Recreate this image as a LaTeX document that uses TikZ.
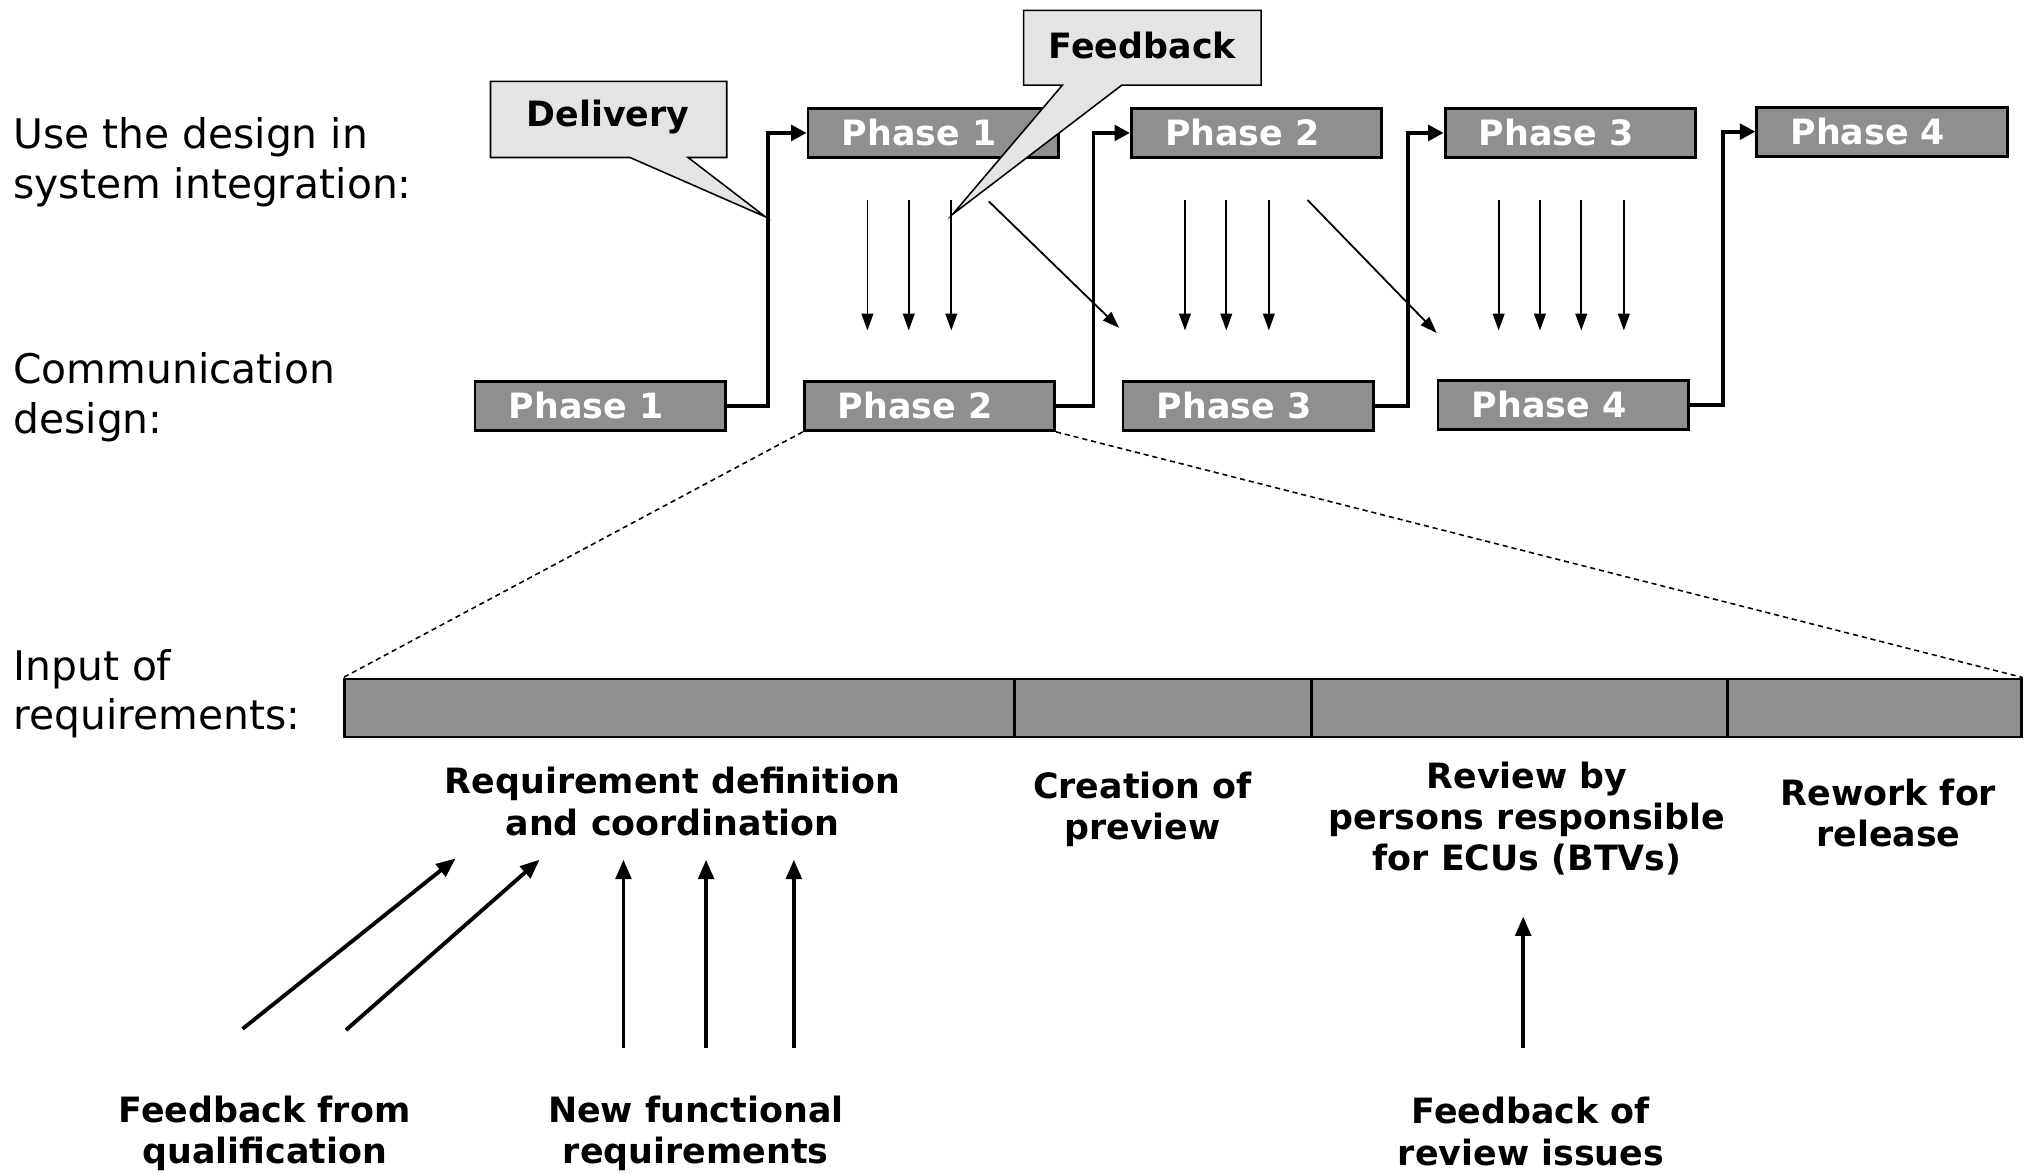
\documentclass[tikz,border=0pt]{standalone}
\usepackage{fontspec}
\setmainfont{DejaVu Sans}
\usetikzlibrary{arrows.meta}
\definecolor{phasegray}{HTML}{8F8F8F}
\definecolor{callgray}{HTML}{E4E4E4}
\begin{document}
\begin{tikzpicture}[x=0.5pt,y=-0.5pt,
 phasebox/.style={draw,line width=1.1pt,fill=phasegray,minimum width=97pt,minimum height=19pt,inner sep=0pt,text=white,font=\fontsize{13.5}{16}\selectfont\bfseries},
 segbox/.style={draw,line width=1.1pt,fill=phasegray,minimum height=22.5pt,inner sep=0pt},
 sidelabel/.style={anchor=west,align=left,inner sep=0pt,font=\fontsize{15.8}{19.3}\selectfont},
 steplabel/.style={align=center,inner sep=0pt,font=\fontsize{13.5}{16}\selectfont\bfseries},
 calloutshape/.style={draw,line width=0.6pt,fill=callgray},
 callouttext/.style={inner sep=0pt,font=\fontsize{13.5}{16}\selectfont\bfseries},
 elbow/.style={line width=1.5pt,-{Triangle[length=6pt,width=6pt]}},
 thinarrow/.style={line width=0.7pt,-{Triangle[length=6.5pt,width=4.5pt]}},
 thickarrow/.style={line width=1.5pt,-{Triangle[length=7.5pt,width=6pt]}},
 zoomline/.style={line width=0.6pt,dash pattern=on 2pt off 1.5pt}]

\useasboundingbox (0,0) rectangle (1568,909);

% side labels
\node[sidelabel] (lab1) at (10,126) {Use the design in\\system integration:};
\node[sidelabel] (lab2) at (10,308) {Communication\\design:};
\node[sidelabel] (lab3) at (10,537.5) {Input of\\requirements:};

% top phases
\node[phasebox] (t1) at (723,103) {Phase 1\hspace*{11pt}};
\node[phasebox] (t2) at (973.5,103) {Phase 2\hspace*{11pt}};
\node[phasebox] (t3) at (1216.5,103) {Phase 3\hspace*{11pt}};
\node[phasebox] (t4) at (1458,102) {Phase 4\hspace*{11pt}};

% bottom phases
\node[phasebox] (b1) at (465,314.5) {Phase 1\hspace*{11pt}};
\node[phasebox] (b2) at (720,314.5) {Phase 2\hspace*{11pt}};
\node[phasebox] (b3) at (967,314.5) {Phase 3\hspace*{11pt}};
\node[phasebox] (b4) at (1211,313.5) {Phase 4\hspace*{11pt}};

% elbow connectors
\draw[elbow] (b1.east) -- ++(32,0) |- (t1.west);
\draw[elbow] (b2.east) -- ++(29,0) |- (t2.west);
\draw[elbow] (b3.east) -- ++(26,0) |- (t3.west);
\draw[elbow] (b4.east) -- ++(26,0) |- (t4.west);

% thin vertical arrows
\foreach \i/\xx in {1/672,2/704,3/737,4/918,5/950,6/983,7/1161,8/1193,9/1225,10/1258}{
  \coordinate (vs\i) at (\xx,155);
  \coordinate (ve\i) at (\xx,256);
  \draw[thinarrow] (vs\i) -- (ve\i);
}
% diagonal arrows
\coordinate (ds1) at (766,156);
\coordinate (de1) at (867,254);
\coordinate (ds2) at (1013,155);
\coordinate (de2) at (1113,258);
\draw[thinarrow] (ds1) -- (de1);
\draw[thinarrow] (ds2) -- (de2);

% callouts
\draw[calloutshape] (380,63) -- (563,63) -- (563,122) -- (533,122) -- (593,168) -- (488,122) -- (380,122) -- cycle;
\node[callouttext] (delivery) at (471,91) {Delivery};
\draw[calloutshape] (793,8) -- (977,8) -- (977,66) -- (869,66) -- (738,166) -- (823,66) -- (793,66) -- cycle;
\node[callouttext] (feedback) at (885,35) {Feedback};

% requirements bar
\node[segbox,minimum width=259.5pt] (s1) at (526.5,548.5) {};
\node[segbox,minimum width=115pt] (s2) at (901,548.5) {};
\node[segbox,minimum width=161pt] (s3) at (1177,548.5) {};
\node[segbox,minimum width=114pt] (s4) at (1452,548.5) {};

% zoom lines
\draw[zoomline] (b2.south west) -- (s1.north west);
\draw[zoomline] (b2.south east) -- (s4.north east);

% step labels
\node[steplabel] (r1) at (521,621) {Requirement definition\\and coordination};
\node[steplabel] (r2) at (885,627) {Creation of\\preview};
\node[steplabel] (r3) at (1183,634) {Review by\\persons responsible\\for ECUs (BTVs)};
\node[steplabel] (r4) at (1463,630) {Rework for\\release};

% input labels
\node[steplabel] (i1) at (205,878) {Feedback from\\qualification};
\node[steplabel] (i2) at (539,878) {New functional\\requirements};
\node[steplabel] (i3) at (1186,876.5) {Feedback of\\review issues};

% input arrows
\coordinate (fa1) at (188,797); \coordinate (fe1) at (353,665);
\coordinate (fa2) at (268,798); \coordinate (fe2) at (418,666);
\draw[thickarrow] (fa1) -- (fe1);
\draw[thickarrow] (fa2) -- (fe2);
\foreach \i/\xx in {1/483,2/547,3/615}{
  \coordinate (na\i) at (\xx,812);
  \coordinate (ne\i) at (\xx,666);
  \draw[thickarrow] (na\i) -- (ne\i);
}
\coordinate (ra) at (1180,812);
\coordinate (re) at (1180,710);
\draw[thickarrow] (ra) -- (re);
\end{tikzpicture}
\end{document}
